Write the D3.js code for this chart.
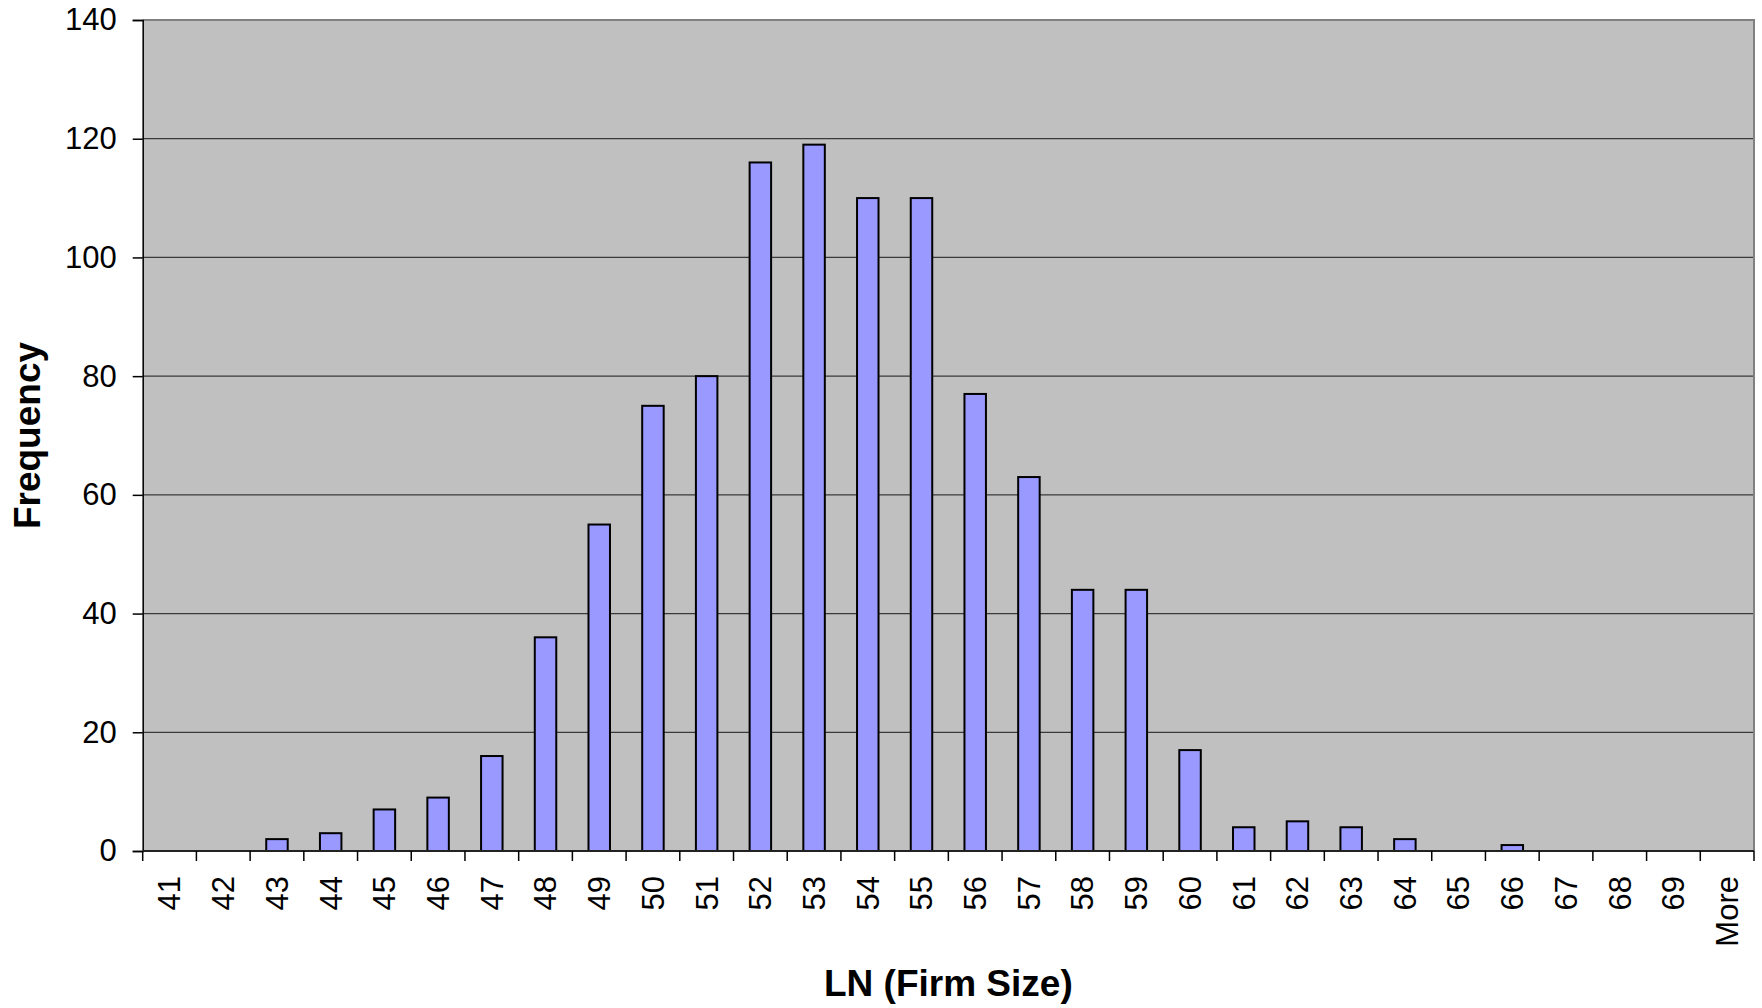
<!DOCTYPE html>
<html>
<head>
<meta charset="utf-8">
<script src="https://cdn.jsdelivr.net/npm/d3@7"></script>
<style>
  html, body { margin: 0; padding: 0; background: #fff; }
  svg { display: block; font-family: "Liberation Sans", Arial, sans-serif; }
</style>
</head>
<body>
<svg id="chart" width="1762" height="1008"></svg>
<script>
// Histogram bins (upper bin edges) and their counts
const categories = ["41","42","43","44","45","46","47","48","49","50","51","52","53","54","55",
                    "56","57","58","59","60","61","62","63","64","65","66","67","68","69","More"];
const frequency  = [0, 0, 2, 3, 7, 9, 16, 36, 55, 75, 80, 116, 119, 110, 110,
                    77, 63, 44, 44, 17, 4, 5, 4, 2, 0, 1, 0, 0, 0, 0];
const yTicks = [0, 20, 40, 60, 80, 100, 120, 140];
const xTitle = "LN (Firm Size)";
const yTitle = "Frequency";

const W = 1762, H = 1008;
const m = { left: 142.7, right: 1754, top: 20, bottom: 851 };

const svg = d3.select("#chart");

const x = d3.scaleBand().domain(categories).range([m.left, m.right]).padding(0);
const y = d3.scaleLinear().domain([0, 140]).range([m.bottom, m.top]);

// plot background
svg.append("rect")
  .attr("x", m.left).attr("y", m.top)
  .attr("width", m.right - m.left).attr("height", m.bottom - m.top)
  .attr("fill", "#c0c0c0");

// horizontal gridlines
svg.append("g")
  .selectAll("line")
  .data(yTicks.filter(d => d > 0 && d < 140))
  .join("line")
  .attr("x1", m.left).attr("x2", m.right)
  .attr("y1", d => y(d)).attr("y2", d => y(d))
  .attr("stroke", "#3a3a3a").attr("stroke-width", 1.2);

// top and right frame
svg.append("path")
  .attr("d", `M${m.left},${m.top}H${m.right}V${m.bottom}`)
  .attr("fill", "none").attr("stroke", "#808080").attr("stroke-width", 2);

// bars: width is 40% of the category slot, centred
const barW = x.step() * 0.4;
svg.append("g")
  .selectAll("rect")
  .data(categories.map((c, i) => ({ c, v: frequency[i] })).filter(d => d.v > 0))
  .join("rect")
  .attr("x", d => x(d.c) + (x.bandwidth() - barW) / 2)
  .attr("y", d => y(d.v))
  .attr("width", barW)
  .attr("height", d => y(0) - y(d.v))
  .attr("fill", "#9999ff")
  .attr("stroke", "#000")
  .attr("stroke-width", 2);

// y axis
const yAxis = svg.append("g").attr("transform", `translate(${m.left},0)`)
  .call(d3.axisLeft(y).tickValues(yTicks).tickSize(10).tickPadding(16).tickFormat(d3.format("d")));
yAxis.select(".domain").attr("stroke", "#000").attr("stroke-width", 1.5);
yAxis.selectAll(".tick line").attr("stroke", "#000").attr("stroke-width", 1.5);
yAxis.selectAll(".tick text")
  .attr("font-size", 31).attr("fill", "#000")
  .attr("font-family", "'Liberation Sans', Arial, sans-serif");

// x axis: ticks on category boundaries
const xg = svg.append("g");
xg.append("line")
  .attr("x1", m.left).attr("x2", m.right)
  .attr("y1", m.bottom).attr("y2", m.bottom)
  .attr("stroke", "#222").attr("stroke-width", 2);
const edges = categories.map(c => x(c)).concat([x(categories[categories.length - 1]) + x.step()]);
xg.selectAll("line.tk")
  .data(edges)
  .join("line").attr("class", "tk")
  .attr("x1", d => d).attr("x2", d => d)
  .attr("y1", m.bottom).attr("y2", m.bottom + 10)
  .attr("stroke", "#000").attr("stroke-width", 1.5);
xg.selectAll("text")
  .data(categories)
  .join("text")
  .attr("transform", d => `translate(${x(d) + x.bandwidth() / 2},876) rotate(-90)`)
  .attr("text-anchor", "end")
  .attr("dy", "0.35em")
  .attr("font-size", 31)
  .attr("fill", "#000")
  .text(d => d);

// axis titles
svg.append("text")
  .attr("x", (m.left + m.right) / 2).attr("y", 996)
  .attr("text-anchor", "middle")
  .attr("font-size", 37).attr("font-weight", "bold")
  .text(xTitle);

svg.append("text")
  .attr("transform", `translate(27,${(m.top + m.bottom) / 2}) rotate(-90)`)
  .attr("text-anchor", "middle")
  .attr("dy", "0.35em")
  .attr("font-size", 37).attr("font-weight", "bold")
  .text(yTitle);
</script>
</body>
</html>
